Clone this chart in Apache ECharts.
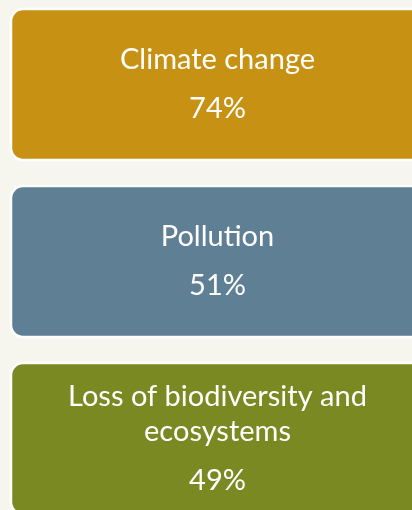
<!DOCTYPE html>
<html>
<head>
<meta charset="utf-8">
<style>
html,body{margin:0;padding:0;background:#F7F6EE;}
#c{width:412px;height:510px;}
</style>
<script src="https://cdn.jsdelivr.net/npm/echarts@6/dist/echarts.min.js"></script>
</head>
<body>
<div id="c"></div>
<script>
const categories = ['Climate change', 'Pollution', 'Loss of biodiversity and\necosystems'];
const values = [74, 51, 49];
const colors = ['#C79214', '#5E7F94', '#7A8922'];

const FONT = 'Lato, "Open Sans", sans-serif';
const chart = echarts.init(document.getElementById('c'), null, {renderer: 'canvas'});
chart.setOption({
  backgroundColor: '#F7F6EE',
  animation: false,
  grid: {left: 11, right: 0, top: 84.5, bottom: 71.5},
  xAxis: {type: 'value', min: 0, max: 1, show: false},
  yAxis: {type: 'category', data: categories, inverse: true, boundaryGap: false, show: false},
  series: [{
    type: 'custom',
    clip: false,
    encode: {y: 0, x: 1},
    data: categories.map((c, i) => [i, values[i]]),
    renderItem: function (params, api) {
      const idx = api.value(0);
      const cs = params.coordSys;
      const c = api.coord([0, idx])[1];
      const pitch = cs.height / (categories.length - 1);
      const h = pitch * 151 / 177;
      const title = categories[idx];
      const n = title.split('\n').length;
      const lh = 35;
      const gap = 49;
      const valueY = c + ((n - 1) * lh + gap) / 2;
      const w = cs.width + 12;
      return {
        type: 'group',
        children: [
          {
            type: 'rect',
            shape: {x: cs.x, y: c - h / 2, width: w, height: h, r: 12},
            style: {fill: colors[idx], stroke: '#FFFFFF', lineWidth: 2.5}
          },
          {
            type: 'text',
            x: cs.x + w / 2,
            y: valueY - gap + lh / 2,
            style: {
              text: title, fill: '#FFFFFF', font: '29px ' + FONT,
              align: 'center', verticalAlign: 'bottom', lineHeight: lh
            }
          },
          {
            type: 'text',
            x: cs.x + w / 2,
            y: valueY,
            style: {
              text: api.value(1) + '%', fill: '#FFFFFF', font: '29px ' + FONT,
              align: 'center', verticalAlign: 'middle', lineHeight: lh
            }
          }
        ]
      };
    }
  }]
});
</script>
</body>
</html>
